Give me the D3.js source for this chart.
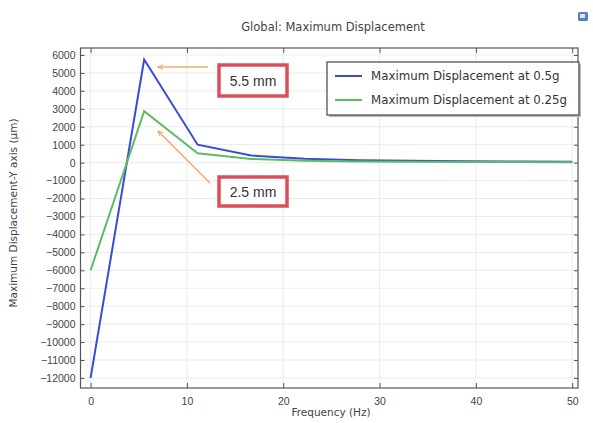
<!DOCTYPE html>
<html><head><meta charset="utf-8">
<script src="https://cdn.jsdelivr.net/npm/d3@7/dist/d3.min.js"></script>
<style>body{margin:0;background:#fff;} svg{display:block;font-family:"DejaVu Sans",sans-serif;}</style>
</head><body><svg id="c" width="593" height="423"></svg>
<script>
const frequency = [0, 5.56, 11.11, 16.67, 22.22, 27.78, 33.33, 38.89, 44.44, 50];
const disp05g  = [-12000, 5750, 1000, 400, 220, 140, 100, 80, 60, 50];
const disp025g = [-6000, 2870, 520, 210, 110, 70, 50, 40, 30, 25];
const seriesNames = ["Maximum Displacement at 0.5g", "Maximum Displacement at 0.25g"];
const xTicks = [0, 10, 20, 30, 40, 50];
const yTicks = d3.range(-12000, 6001, 1000);
const notes = ["5.5 mm", "2.5 mm"];

const svg = d3.select("#c");
const L = 80.5, R = 578, T = 48, B = 388;
const x = d3.scaleLinear().domain([-1.05, 50.6]).range([L, R]);
const y = d3.scaleLinear().domain([-12560, 6390]).range([B, T]);

// grid
svg.append("g").selectAll("line").data(yTicks).join("line")
  .attr("x1", L).attr("x2", R).attr("y1", d => y(d)).attr("y2", d => y(d))
  .attr("stroke", "#ebebeb").attr("stroke-width", 1);
svg.append("g").selectAll("line").data(xTicks).join("line")
  .attr("y1", T).attr("y2", B).attr("x1", d => x(d)).attr("x2", d => x(d))
  .attr("stroke", "#ebebeb").attr("stroke-width", 1);

// axes (ticks inside)
const ax = g => g.selectAll(".domain").remove();
svg.append("g").attr("transform", `translate(0,${B})`)
  .call(d3.axisBottom(x).tickValues(xTicks).tickSize(-5).tickPadding(10))
  .call(ax).call(g => g.selectAll("text").attr("font-size", 10.5).attr("fill", "#444"))
  .call(g => g.selectAll("line").attr("stroke", "#555"));
svg.append("g").attr("transform", `translate(0,${T})`)
  .call(d3.axisTop(x).tickValues(xTicks).tickSize(-5).tickFormat(""))
  .call(ax).call(g => g.selectAll("line").attr("stroke", "#555"));
svg.append("g").attr("transform", `translate(${L},0)`)
  .call(d3.axisLeft(y).tickValues(yTicks).tickSize(-4).tickPadding(5).tickFormat(d3.format("d")))
  .call(ax).call(g => g.selectAll("text").attr("font-size", 10.5).attr("fill", "#444"))
  .call(g => g.selectAll("line").attr("stroke", "#555"));
svg.append("g").attr("transform", `translate(${R},0)`)
  .call(d3.axisRight(y).tickValues(yTicks).tickSize(-4).tickFormat(""))
  .call(ax).call(g => g.selectAll("line").attr("stroke", "#555"));

svg.append("rect").attr("x", L).attr("y", T).attr("width", R - L).attr("height", B - T)
  .attr("fill", "none").attr("stroke", "#555").attr("stroke-width", 1.2);

// lines
const colors = ["#3a4ad8", "#5cbc63"];
const line = d3.line().x((d, i) => x(frequency[i])).y(d => y(d));
[disp05g, disp025g].forEach((s, k) => {
  svg.append("path").datum(s).attr("d", line).attr("fill", "none")
    .attr("stroke", colors[k]).attr("stroke-width", 2).attr("stroke-linejoin", "miter");
});

// title, labels
svg.append("text").attr("x", 333).attr("y", 31).attr("text-anchor", "middle")
  .attr("font-size", 11.5).attr("fill", "#444").text("Global: Maximum Displacement");
svg.append("text").attr("x", 331).attr("y", 416).attr("text-anchor", "middle")
  .attr("font-size", 10.5).attr("fill", "#444").text("Frequency (Hz)");
svg.append("text").attr("transform", "translate(17,213) rotate(-90)").attr("text-anchor", "middle")
  .attr("font-size", 10.5).attr("fill", "#444").text("Maximum Displacement-Y axis (µm)");

// icon
svg.append("rect").attr("x", 578).attr("y", 12).attr("width", 10).attr("height", 9).attr("rx", 1.5)
  .attr("fill", "#5a7fb8");
svg.append("rect").attr("x", 580).attr("y", 14).attr("width", 5).attr("height", 4).attr("fill", "#dfe8f5");

// legend
const lg = svg.append("g");
lg.append("rect").attr("x", 329).attr("y", 64).attr("width", 252).attr("height", 53).attr("fill", "#bbb");
lg.append("rect").attr("x", 327).attr("y", 62).attr("width", 252).attr("height", 53)
  .attr("fill", "#fff").attr("stroke", "#444").attr("stroke-width", 1.2);
seriesNames.forEach((n, k) => {
  const yy = 76 + k * 24;
  lg.append("line").attr("x1", 335).attr("x2", 362).attr("y1", yy).attr("y2", yy)
    .attr("stroke", colors[k]).attr("stroke-width", 2);
  lg.append("text").attr("x", 371).attr("y", yy + 4).attr("font-size", 11.8).attr("fill", "#333").text(n);
});

// annotations
const boxes = [{x: 219, y: 65, w: 68, h: 31}, {x: 219, y: 177, w: 68, h: 29}];
boxes.forEach((b, k) => {
  svg.append("rect").attr("x", b.x).attr("y", b.y).attr("width", b.w).attr("height", b.h)
    .attr("fill", "#fff").attr("stroke", "#d9505a").attr("stroke-width", 3.5);
  svg.append("text").attr("x", b.x + b.w / 2).attr("y", b.y + b.h / 2 + 5).attr("text-anchor", "middle")
    .attr("font-family", "Liberation Sans, sans-serif").attr("font-size", 14).attr("fill", "#333").text(notes[k]);
});
const defs = svg.append("defs");
defs.append("marker").attr("id", "ah").attr("viewBox", "0 0 10 10").attr("refX", 9).attr("refY", 5)
  .attr("markerWidth", 6).attr("markerHeight", 6).attr("markerUnits", "userSpaceOnUse").attr("orient", "auto")
  .append("path").attr("d", "M0,1 L10,5 L0,9").attr("fill", "none").attr("stroke", "#f0a050").attr("stroke-width", 1.5);
svg.append("line").attr("x1", 208).attr("y1", 67).attr("x2", 158).attr("y2", 67)
  .attr("stroke", "#f0b060").attr("stroke-width", 1.3).attr("marker-end", "url(#ah)");
svg.append("line").attr("x1", 210).attr("y1", 183).attr("x2", 158).attr("y2", 131)
  .attr("stroke", "#f0a070").attr("stroke-width", 1.3).attr("marker-end", "url(#ah)");
</script></body></html>
